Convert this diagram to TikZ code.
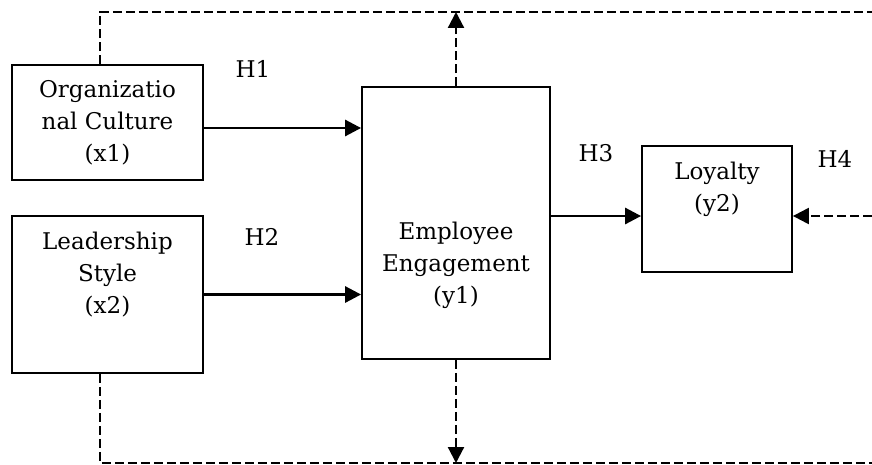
\documentclass[tikz,border=0pt]{standalone}
\usepackage{fontspec}
\setmainfont{DejaVu Serif}
\usetikzlibrary{arrows.meta, positioning}
\tikzset{
  var/.style={draw, line width=0.9pt, rectangle, inner sep=0pt},
  lbl/.style={align=center, font=\fontsize{11.5}{16}\selectfont},
  hyp/.style={font=\fontsize{11.5}{14}\selectfont},
  tip/.style={-{Triangle[length=8pt,width=8pt]}},
  link/.style={line width=1.4pt, tip},
  feedback/.style={line width=1.1pt, dash pattern=on 4.5pt off 2pt},
}

\begin{document}
\begin{tikzpicture}[x=0.5pt, y=-0.5pt]
    \useasboundingbox (0,0) rectangle (872,465);

    % constructs
    \node[var, minimum width=95.5pt, minimum height=57.5pt] (x1) at (107.5,122.5) {};
    \node[var, minimum width=95.5pt, minimum height=78.5pt] (x2) at (107.5,294.5) {};
    \node[var, minimum width=94pt, minimum height=136pt] (y1) at (456,223) {};
    \node[var, minimum width=75pt, minimum height=63pt] (y2) at (717,209) {};

    \node[lbl] (x1t) at (x1.center) {Organizatio\\nal Culture\\(x1)};
    \node[lbl] (x2t) at ([yshift=9.75pt]x2.center) {Leadership\\Style\\(x2)};
    \node[lbl] (y1t) at ([yshift=-21pt]y1.center) {Employee\\Engagement\\(y1)};
    \node[lbl] (y2t) at ([yshift=9.75pt]y2.center) {Loyalty\\(y2)};

    % hypotheses
    \node[hyp] (h1) at (253,69) {H1};
    \node[hyp] (h2) at (262,237) {H2};
    \node[hyp] (h3) at (596,153) {H3};
    \node[hyp] (h4) at (835,159) {H4};

    % direct paths
    \draw[link] (x1.east |- 0,128) -- (y1.west |- 0,128);
    \draw[link] (x2.east) -- (x2.east -| y1.west);
    \draw[link] (y1.east |- 0,216) -- (y2.west |- 0,216);

    % dashed frame
    \coordinate (tl) at (100,12);
    \coordinate (tr) at (872,12);
    \coordinate (bl) at (100,463);
    \coordinate (br) at (872,463);
    \coordinate (rr) at (872,216);

    \draw[feedback] (x1.north -| tl) -- (tl) -- (tr);
    \draw[feedback] (x2.south -| bl) -- (bl) -- (br);
    \draw[feedback, tip] (y1.north) -- (y1.north |- tl);
    \draw[feedback, tip] (y1.south) -- (y1.south |- bl);
    \draw[feedback, tip] (rr) -- (rr -| y2.east);
\end{tikzpicture}
\end{document}
